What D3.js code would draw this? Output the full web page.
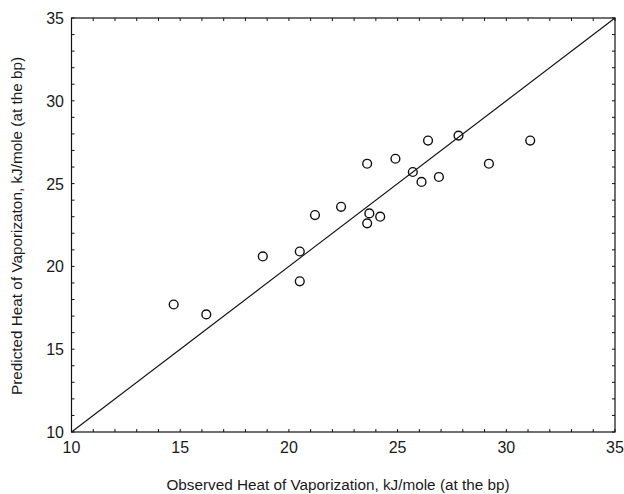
<!DOCTYPE html>
<html lang="en">
<head>
<meta charset="UTF-8">
<title>Heat of Vaporization</title>
<script src="https://d3js.org/d3.v7.min.js"></script>
<style>
    body { margin: 0; background: #fff; }
    text { font-family: "Liberation Sans", Arial, sans-serif; fill: #1a1a1a; }
    .tick-label { font-family: "Liberation Sans Narrow", "Liberation Sans", Arial, sans-serif; font-size: 16px; }
    .axis-label { font-size: 15.3px; text-anchor: middle; }
</style>
</head>
<body>
<div id="chart"></div>
<script>
    // observed vs predicted heat of vaporization (kJ/mole)
    const observed  = [14.7, 16.2, 18.8, 20.5, 20.5, 21.2, 22.4, 23.6, 23.7, 23.6, 24.2, 24.9, 25.7, 26.1, 26.9, 26.4, 27.8, 29.2, 31.1];
    const predicted = [17.7, 17.1, 20.6, 20.9, 19.1, 23.1, 23.6, 26.2, 23.2, 22.6, 23.0, 26.5, 25.7, 25.1, 25.4, 27.6, 27.9, 26.2, 27.6];
    const tickValues = [10, 15, 20, 25, 30, 35];
    const minorTicks = d3.range(10, 36, 1);

    const width = 624, height = 494;
    const plotLeft = 71.5, plotRight = 615, plotTop = 18, plotBottom = 432;

    const svg = d3.select("#chart").append("svg")
        .attr("width", width)
        .attr("height", height);

    const x = d3.scaleLinear().domain([10, 35]).range([plotLeft, plotRight]);
    const y = d3.scaleLinear().domain([10, 35]).range([plotBottom, plotTop]);

    // frame
    svg.append("rect")
        .attr("x", plotLeft).attr("y", plotTop)
        .attr("width", plotRight - plotLeft).attr("height", plotBottom - plotTop)
        .attr("fill", "none").attr("stroke", "#111").attr("stroke-width", 1.2);

    // inward minor ticks on all sides
    const tk = 3;
    const ticks = svg.append("g").attr("stroke", "#111").attr("stroke-width", 1);
    minorTicks.forEach(v => {
        ticks.append("line").attr("x1", x(v)).attr("x2", x(v)).attr("y1", plotBottom).attr("y2", plotBottom - tk);
        ticks.append("line").attr("x1", x(v)).attr("x2", x(v)).attr("y1", plotTop).attr("y2", plotTop + tk);
        ticks.append("line").attr("y1", y(v)).attr("y2", y(v)).attr("x1", plotLeft).attr("x2", plotLeft + tk);
        ticks.append("line").attr("y1", y(v)).attr("y2", y(v)).attr("x1", plotRight).attr("x2", plotRight - tk);
    });

    // tick labels
    svg.append("g").selectAll("text")
        .data(tickValues)
        .enter().append("text")
        .attr("class", "tick-label")
        .attr("x", d => x(d))
        .attr("y", 453)
        .attr("text-anchor", "middle")
        .text(d => d);

    svg.append("g").selectAll("text")
        .data(tickValues)
        .enter().append("text")
        .attr("class", "tick-label")
        .attr("x", 64)
        .attr("y", d => y(d) + 6)
        .attr("text-anchor", "end")
        .text(d => d);

    // line of identity
    svg.append("line")
        .attr("x1", x(10)).attr("y1", y(10))
        .attr("x2", x(35)).attr("y2", y(35))
        .attr("stroke", "#111").attr("stroke-width", 1.1);

    // points
    svg.append("g").selectAll("circle")
        .data(observed.map((d, i) => [d, predicted[i]]))
        .enter().append("circle")
        .attr("cx", d => x(d[0]))
        .attr("cy", d => y(d[1]))
        .attr("r", 4.4)
        .attr("fill", "none")
        .attr("stroke", "#111")
        .attr("stroke-width", 1.4);

    // axis titles
    svg.append("text")
        .attr("class", "axis-label")
        .attr("x", 338)
        .attr("y", 490)
        .text("Observed Heat of Vaporization, kJ/mole (at the bp)");

    svg.append("text")
        .attr("class", "axis-label")
        .attr("transform", `translate(22, 226) rotate(-90)`)
        .text("Predicted Heat of Vaporizaton, kJ/mole (at the bp)");
</script>
</body>
</html>
